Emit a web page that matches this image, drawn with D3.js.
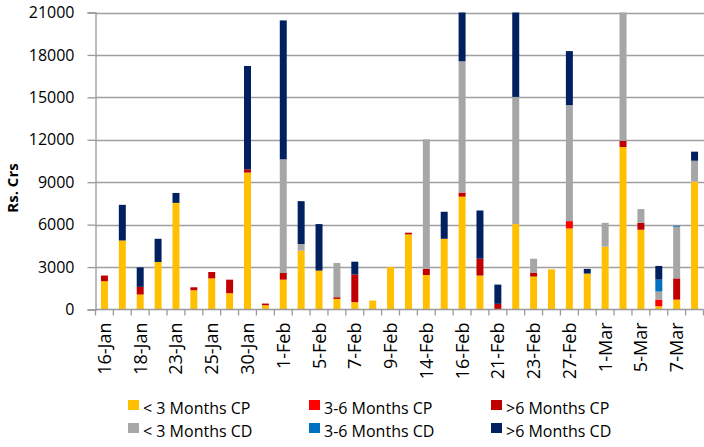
<!DOCTYPE html>
<html>
<head>
<meta charset="utf-8">
<script src="https://cdn.jsdelivr.net/npm/d3@7"></script>
<style>
body { margin: 0; background: #fff; }
svg { display: block; font-family: "Open Sans", "Liberation Sans", sans-serif; }
</style>
</head>
<body>
<svg id="chart" width="704" height="447"></svg>
<script>
// dates on the x axis (only every other one gets a label)
var dates = ["16-Jan", "17-Jan", "18-Jan", "22-Jan", "23-Jan", "24-Jan", "25-Jan", "29-Jan", "30-Jan", "31-Jan",
             "1-Feb", "4-Feb", "5-Feb", "6-Feb", "7-Feb", "8-Feb", "9-Feb", "13-Feb", "14-Feb", "15-Feb",
             "16-Feb", "20-Feb", "21-Feb", "22-Feb", "23-Feb", "26-Feb", "27-Feb", "28-Feb", "1-Mar", "4-Mar",
             "5-Mar", "6-Mar", "7-Mar", "8-Mar"];

var seriesNames = ["< 3 Months CP", "3-6 Months CP", ">6 Months CP", "< 3 Months CD", "3-6 Months CD", ">6 Months CD"];
var seriesColors = ["#FFC000", "#FF0000", "#C00000", "#A6A6A6", "#0070C0", "#002060"];

var cpUnder3 = [2000, 4880, 1060, 3360, 7540, 1360, 2200, 1150, 9680, 300,
                2110, 4160, 2750, 750, 520, 630, 3010, 5310, 2440, 5000,
                7980, 2400, 0, 6040, 2330, 2840, 5730, 2540, 4440, 11490,
                5640, 230, 700, 9040];
var cp3to6 = [0, 0, 0, 0, 0, 0, 0, 0, 0, 0,
              0, 0, 0, 0, 0, 0, 0, 0, 0, 0,
              0, 0, 0, 0, 0, 0, 520, 0, 0, 0,
              0, 470, 0, 0];
var cpOver6 = [400, 0, 540, 0, 0, 210, 450, 960, 230, 120,
               470, 0, 0, 120, 1950, 0, 0, 120, 430, 0,
               290, 1190, 400, 0, 280, 0, 0, 0, 0, 440,
               490, 0, 1500, 0];
var cdUnder3 = [0, 0, 0, 0, 0, 0, 0, 0, 0, 0,
                8040, 470, 0, 2420, 0, 0, 0, 0, 9160, 0,
                9280, 0, 0, 8990, 980, 0, 8200, 0, 1690, 9600,
                970, 570, 3650, 1480];
var cd3to6 = [0, 0, 0, 0, 0, 0, 0, 0, 0, 0,
              0, 0, 0, 0, 0, 0, 0, 0, 0, 0,
              0, 0, 0, 0, 0, 0, 0, 0, 0, 0,
              0, 840, 70, 0];
var cdOver6 = [0, 2520, 1380, 1640, 700, 0, 0, 0, 7310, 0,
               9820, 3030, 3290, 0, 910, 0, 0, 0, 0, 1910,
               4000, 3410, 1360, 6500, 0, 0, 3820, 330, 0, 0,
               0, 970, 0, 640];

var yTicks = [0, 3000, 6000, 9000, 12000, 15000, 18000, 21000];

var allSeries = [cpUnder3, cp3to6, cpOver6, cdUnder3, cd3to6, cdOver6];

// build rows for d3.stack
var rows = dates.map(function(d, i) {
    var row = {date: d};
    seriesNames.forEach(function(name, k) {
        row[name] = allSeries[k][i];
    });
    return row;
});

var svg = d3.select("#chart");

// plot box (note: "top" is taken by window.top)
var plotLeft = 95.5, plotRight = 703.5, plotTop = 12.5, plotBottom = 309.5;

var x = d3.scaleBand()
    .domain(dates)
    .range([plotLeft, plotRight])
    .paddingInner(0.61)
    .paddingOuter(0.305);

var y = d3.scaleLinear()
    .domain([0, 21000])
    .range([plotBottom, plotTop])
    .clamp(true);

// gridlines
svg.append("g").selectAll("line")
    .data(yTicks.filter(function(t) { return t > 0; }))
    .enter().append("line")
    .attr("x1", plotLeft)
    .attr("x2", plotRight + 1)
    .attr("y1", function(d) { return Math.round(y(d)) + 0.5; })
    .attr("y2", function(d) { return Math.round(y(d)) + 0.5; })
    .attr("stroke", "#a0a0a0")
    .attr("stroke-width", 1.5);

// stacked bars
var stack = d3.stack().keys(seriesNames);
var layers = stack(rows);

svg.append("g").selectAll("g")
    .data(layers)
    .enter().append("g")
    .attr("fill", function(d, i) { return seriesColors[i]; })
    .selectAll("rect")
    .data(function(d) { return d; })
    .enter().append("rect")
    .attr("x", function(d) { return x(d.data.date); })
    .attr("width", x.bandwidth())
    .attr("y", function(d) { return y(d[1]); })
    .attr("height", function(d) { return y(d[0]) - y(d[1]); });

// y axis
var yAxis = d3.axisLeft(y)
    .tickValues(yTicks)
    .tickSize(8)
    .tickPadding(13)
    .tickFormat(d3.format("d"));

var gy = svg.append("g")
    .attr("transform", "translate(" + plotLeft + ",0)")
    .call(yAxis);
gy.select(".domain").attr("stroke", "#999").attr("stroke-width", 1.3);
gy.selectAll(".tick line").attr("stroke", "#999").attr("stroke-width", 1.3);
gy.selectAll(".tick text")
    .attr("font-size", "16px")
    .attr("fill", "#000")
    .attr("font-family", "Open Sans");

// x axis, ticks between the categories
var gx = svg.append("g")
    .attr("transform", "translate(0," + plotBottom + ")");

gx.append("line")
    .attr("x1", plotLeft)
    .attr("x2", plotRight)
    .attr("stroke", "#999")
    .attr("stroke-width", 1.3);

var step = x.step();
gx.selectAll(".sep")
    .data(d3.range(dates.length + 1))
    .enter().append("line")
    .attr("class", "sep")
    .attr("x1", function(i) { return plotLeft + i * step; })
    .attr("x2", function(i) { return plotLeft + i * step; })
    .attr("y1", 0)
    .attr("y2", 6)
    .attr("stroke", "#999")
    .attr("stroke-width", 1.3);

gx.selectAll(".lbl")
    .data(dates.filter(function(d, i) { return i % 2 == 0; }))
    .enter().append("text")
    .attr("class", "lbl")
    .attr("transform", function(d) {
        return "translate(" + (x(d) + x.bandwidth() / 2 + 6.5) + ",13) rotate(-90)";
    })
    .attr("text-anchor", "end")
    .attr("font-size", "18px")
    .attr("fill", "#000")
    .text(function(d) { return d; });

// y title
svg.append("text")
    .attr("transform", "translate(18,188) rotate(-90)")
    .attr("text-anchor", "middle")
    .attr("font-size", "15px")
    .attr("font-weight", "bold")
    .text("Rs. Crs");

// legend
var legendX = [128, 309, 491];
var legendY = [400, 423];

var legend = svg.append("g").selectAll("g")
    .data(seriesNames)
    .enter().append("g")
    .attr("transform", function(d, i) {
        return "translate(" + legendX[i % 3] + "," + legendY[Math.floor(i / 3)] + ")";
    });

legend.append("rect")
    .attr("width", 11)
    .attr("height", 10)
    .attr("fill", function(d, i) { return seriesColors[i]; });

legend.append("text")
    .attr("x", 15)
    .attr("y", 14)
    .attr("font-size", "16px")
    .attr("fill", "#000")
    .text(function(d) { return d; });
</script>
</body>
</html>
